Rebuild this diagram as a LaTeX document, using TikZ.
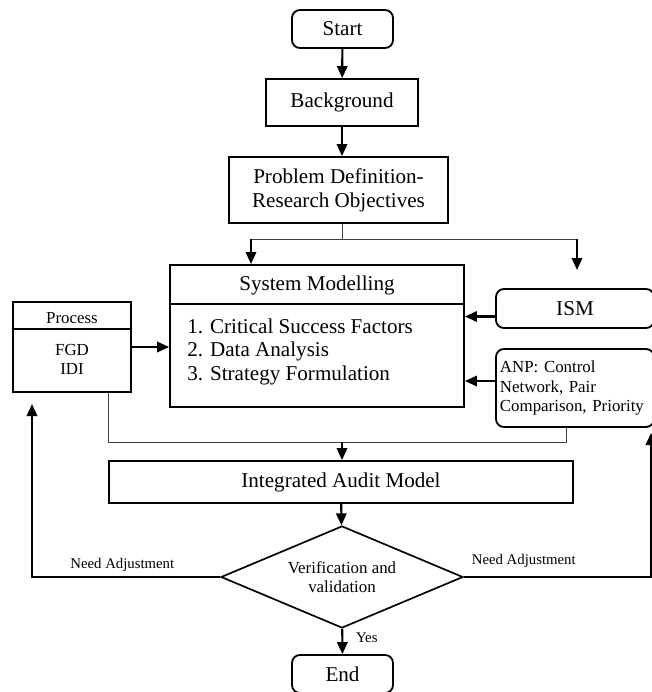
\documentclass[tikz,border=0pt]{standalone}
\usepackage{fontspec}
\setmainfont{Liberation Serif}
\usetikzlibrary{arrows.meta,shapes.geometric,calc}

\begin{document}
\begin{tikzpicture}[x=0.025cm,y=-0.025cm,
    box/.style={draw,line width=1.3pt,inner sep=0pt,align=center,font=\fontsize{15}{17}\selectfont},
    rbox/.style={box,rounded corners=0.2cm},
    arr/.style={line width=1.5pt,-{Triangle[length=0.3cm,width=0.26cm]}},
    link/.style={black!75,line width=0.6pt},
    lbl/.style={font=\fontsize{10.5}{12}\selectfont},
    small/.style={font=\fontsize{12}{13.8}\selectfont}]

    \useasboundingbox (0,0) rectangle (652,692);
    \clip (0,0) rectangle (652,692);

    \node[rbox,minimum width=2.525cm,minimum height=0.95cm] (start) at (342.5,29) {Start};
    \node[box,minimum width=3.8cm,minimum height=1.175cm] (bg) at (342,102.5) {Background};
    \node[box,minimum width=5.475cm,minimum height=1.65cm] (prob) at (338.5,190) {Problem Definition-\\Research Objectives};

    % system modelling box
    \node[box,minimum width=7.35cm,minimum height=3.55cm] (sysm) at (317,336) {};
    \draw[line width=0.8pt] (sysm.west |- 0,304) -- (sysm.east |- 0,304);
    \node[font=\fontsize{15}{17}\selectfont] (sysmt) at (317,285) {System Modelling};
    \foreach \t [count=\i] in {Critical Success Factors, Data Analysis, Strategy Formulation}
        \node[anchor=base west,inner sep=0pt,font=\fontsize{15}{17}\selectfont] (item\i) at (187,{309.5+23.5*\i}) {\i. \t};

    % process box
    \node[box,minimum width=2.95cm,minimum height=2.25cm] (proc) at (72,347) {};
    \draw[line width=0.8pt] (proc.west |- 0,329) -- (proc.east |- 0,329);
    \node[small] (proct) at (72,318) {Process};
    \node[small,align=center] (procb) at (72,359.5) {FGD\\IDI};

    \node[rbox,minimum width=3.95cm,minimum height=0.975cm] (ism) at (575,308.5) {ISM};
    \node[rbox,small,minimum width=3.95cm,minimum height=1.95cm,text width=3.75cm,align=left] (anp) at (575,388) {ANP: Control\\Network, Pair\\Comparison, Priority};

    \node[box,minimum width=11.6cm,minimum height=1.05cm] (integ) at (341,482) {Integrated Audit Model};
    \node[draw,diamond,small,shape aspect=2.37,line width=1.2pt,minimum width=6.05cm,minimum height=2.55cm,inner sep=0pt,align=center] (verif) at (342,577) {Verification and\\validation};
    \node[rbox,minimum width=2.525cm,minimum height=0.95cm] (end) at (342.5,674) {End};

    \draw[arr] (start) -- (bg);
    \draw[arr] (bg) -- (bg |- prob.north);

    \coordinate (splitl) at (251,239);
    \coordinate (splitr) at (577,239);
    \coordinate (ismtip) at (577,270);
    \draw[link] (prob.south -| bg) -- (splitl -| bg);
    \draw[link] (splitl) -- (splitr);
    \draw[arr] (splitl) -- (splitl |- sysm.north);
    \draw[arr] (splitr) -- (ismtip);

    \draw[arr] (proc.east) -- (proc.east -| sysm.west);
    \draw[arr] ([yshift=-0.2cm]ism.west) -- ([yshift=-0.2cm]ism.west -| sysm.east);
    \draw[arr] ([yshift=0.175cm]anp.west) -- ([yshift=0.175cm]anp.west -| sysm.east);

    \coordinate (join) at (342,442);
    \draw[link] (proc.south -| 108,0) -- (108,442) -- (566,442) -- (anp.south -| 566,0);
    \draw[arr] (join) -- (integ.north -| join);

    \draw[arr] (integ) -- (verif);
    \draw[arr] (verif) -- node[right,lbl,xshift=0.2cm,pos=0.35] (yes) {Yes} (end);

    \coordinate (lbend) at (32,577);
    \coordinate (ltip) at (32,404);
    \coordinate (rbend) at (651,577);
    \coordinate (rtip) at (651,433);
    \draw[arr] (verif.west) -- node[above,lbl,pos=0.52] (needl) {Need Adjustment} (lbend) -- (ltip);
    \draw[arr] (verif.east) -- node[above,lbl,pos=0.32,yshift=0.1cm] (needr) {Need Adjustment} (rbend) -- (rtip);

\end{tikzpicture}
\end{document}
